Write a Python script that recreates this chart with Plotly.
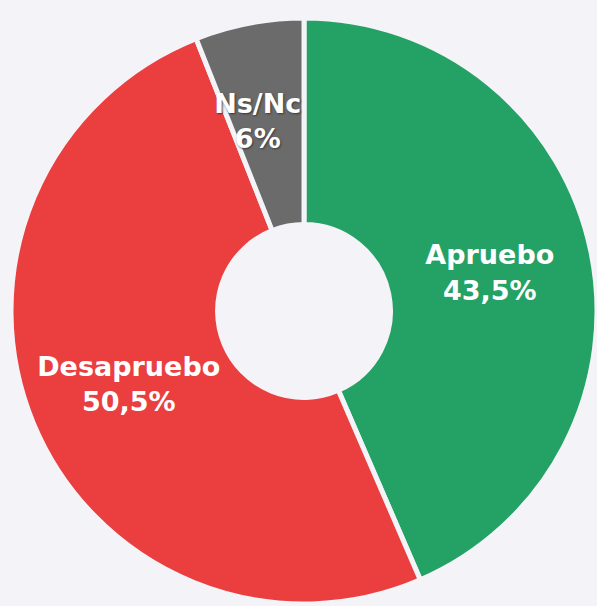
import plotly.graph_objects as go

labels = ["Apruebo", "Desapruebo", "Ns/Nc"]
values = [43.5, 50.5, 6]
colors = ["#24a165", "#ea3e3f", "#6b6b6b"]
shadows = ["none", "none", "1px 1px 2px #3a3a3a"]
# blank lines above the small-slice label push it toward the ring centre
label_pad = ["", "", "\u00a0<br>\u00a0<br>\u00a0<br>"]

texts = [f"{p}{l}<br>{('%g' % v).replace('.', ',')}%"
         for p, l, v in zip(label_pad, labels, values)]

bg = "#f4f4f8"

fig = go.Figure(go.Pie(
    labels=labels,
    values=values,
    text=texts,
    textinfo="text",
    textposition="inside",
    insidetextorientation="horizontal",
    sort=False,
    direction="clockwise",
    rotation=0,
    hole=0.295,
    marker=dict(colors=colors, line=dict(color=bg, width=5)),
    textfont=dict(family="DejaVu Sans", size=27, color="white", weight="bold", shadow=shadows),
    domain=dict(x=[11 / 597, 1], y=[2 / 606, 588 / 606]),
    showlegend=False,
    hoverinfo="label+percent",
))

fig.update_layout(
    width=597, height=606,
    margin=dict(l=0, r=0, t=0, b=0),
    paper_bgcolor=bg, plot_bgcolor=bg,
    uniformtext=dict(mode="show", minsize=27),
)

fig.write_html("out.html", config={"displayModeBar": False},
               post_script="document.body.style.margin='0px';")
